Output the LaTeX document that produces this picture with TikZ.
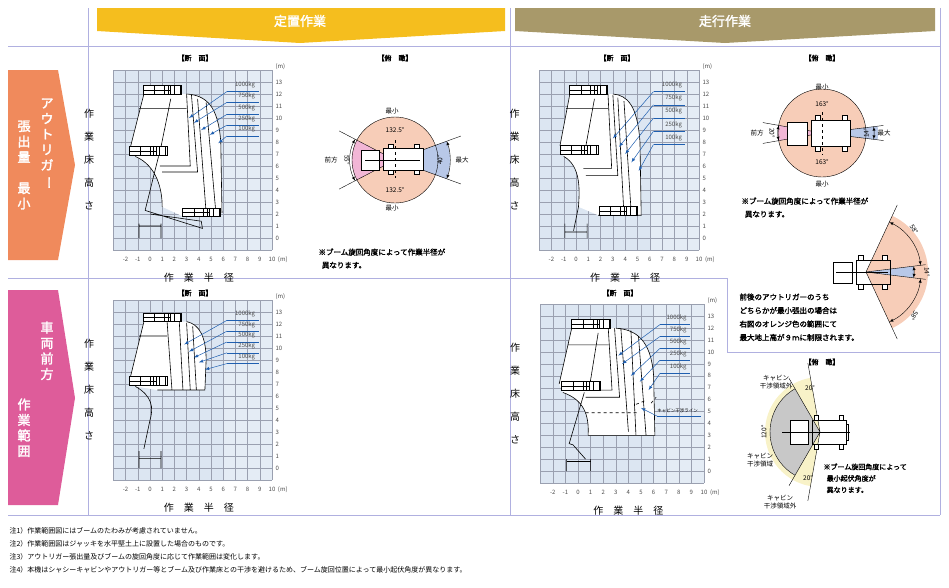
\documentclass[tikz,border=0pt]{standalone}
\usepackage{fontspec}
\setmainfont{Noto Sans CJK JP}[AutoFakeBold=2]
\usetikzlibrary{arrows.meta,calc}
\definecolor{hdryellow}{HTML}{F5BE1E}
\definecolor{hdrolive}{HTML}{A8996A}
\definecolor{sideorange}{HTML}{F08A5C}
\definecolor{sidepink}{HTML}{DE5C9A}
\definecolor{framecol}{HTML}{B0B0E0}
\definecolor{gridfill}{HTML}{DCE6F2}
\definecolor{gridline}{HTML}{9AA0B0}
\definecolor{peach}{HTML}{F7CDB8}
\definecolor{pinksec}{HTML}{F2B6D6}
\definecolor{bluesec}{HTML}{B8C8E8}
\definecolor{loadblue}{HTML}{1F5FB0}
\definecolor{yellowsec}{HTML}{F8F2C8}
\definecolor{graysec}{HTML}{C8C8C8}
\tikzset{>=latex}
\tikzset{
  frame/.style={draw=framecol,line width=0.8pt},
  envline/.style={draw=black,line width=0.6pt},
  envfill/.style={fill=white},
  loadarrow/.style={draw=loadblue,line width=0.5pt},
  tick/.style={font=\fontsize{6}{6}\selectfont,text=black!70},
  small/.style={font=\fontsize{6.5}{8}\selectfont},
  title/.style={font=\fontsize{7}{8}\selectfont\bfseries},
  note/.style={font=\fontsize{7.5}{13}\selectfont\bfseries,align=left,anchor=north west},
  vtext/.style={font=\fontsize{13}{15.5}\selectfont\bfseries,text=white,align=center,anchor=north}
}
\newcommand\vbar{\rotatebox[origin=c]{-90}{ー}}
% basket drawn in chart metres
\newcommand\basket[2]{%
  \draw[line width=1pt,fill=white] (#1,#2) rectangle ++(3,0.7);
  \draw[line width=0.6pt] (#1,#2+0.35)--++(2.2,0);
  \foreach \d in {0.9,1.7,2.0,2.2,2.5}{\draw[line width=0.8pt] (#1+\d,#2)--++(0,0.7);}
  \draw[line width=1pt] (#1+2.8,#2)--++(0.3,0)--++(0,0.7)--++(-0.3,0);}
\newcommand\chartgrid{%
  \fill[gridfill] (-3,-1) rectangle (10,14);
  \fill[white,opacity=0.25] (6,-1) rectangle (10,14);
  \foreach \i in {-3,...,10}{\draw[gridline,line width=0.35pt] (\i,-1)--(\i,14);}
  \foreach \j in {-1,...,14}{\draw[gridline,line width=0.35pt] (-3,\j)--(10,\j);}
  \foreach \j in {0,...,13}{\node[tick,anchor=west] (yt\j) at (10,\j) {\j};}
  \node[tick,anchor=west] (ym) at (10,14.3) {(m)};
  \foreach \i in {-2,...,10}{\node[tick] (xt\i) at (\i,-1.8) {\i};}
  \node[tick,anchor=west] (xm) at (10.2,-1.8) {(m)};
  \node[font=\fontsize{10}{10}\selectfont] (xlab) at (4,-3.3) {作\quad 業\quad 半\quad 径};
  \node[font=\fontsize{10}{23}\selectfont,align=center] (ylab) at (-5,6.5) {作\\業\\床\\高\\さ};}

\begin{document}
\begin{tikzpicture}[x=1pt,y=-1pt]
\useasboundingbox (0,0) rectangle (949,587);

% frames
\draw[frame] (88,8)--(88,515) (510,8)--(510,515) (8,46)--(940,46) (940,8)--(940,515)
  (8,278)--(727,278)--(727,352)--(940,352) (8,515)--(940,515);

% headers
\fill[hdryellow] (97,8)--(505,8)--(505,31)--(300,43)--(97,31)--cycle;
\node[font=\fontsize{13}{13}\selectfont\bfseries,text=white] (hfix) at (300,21) {定置作業};
\fill[hdrolive] (515,8)--(935,8)--(935,31)--(725,43)--(515,31)--cycle;
\node[font=\fontsize{13}{13}\selectfont\bfseries,text=white] (hrun) at (725,21) {走行作業};

% side labels
\fill[sideorange] (8,70)--(58,70)--(75,165)--(58,260)--(8,260)--cycle;
\node[vtext] (o1) at (47,95) {ア\\ウ\\ト\\リ\\ガ\\\vbar};
\node[vtext] (o2) at (24,117) {張\\出\\量\\\\最\\小};
\fill[sidepink] (8,290)--(58,290)--(75,398)--(58,505)--(8,505)--cycle;
\node[vtext] (p1) at (47,318) {車\\両\\前\\方};
\node[vtext] (p2) at (24,395) {作\\業\\範\\囲};

% section titles
\node[title] (t1) at (195,58) {【断\quad 面】};
\node[title] (t2) at (395,58) {【俯\quad 瞰】};
\node[title] (t3) at (617,58) {【断\quad 面】};
\node[title] (t4) at (822,58) {【俯\quad 瞰】};
\node[title] (t5) at (195,293) {【断\quad 面】};
\node[title] (t6) at (620,293) {【断\quad 面】};
\node[title] (t7) at (822,362) {【俯\quad 瞰】};

% chart 1
\begin{scope}[shift={(150,238)},x=12.2pt,y=12pt]
\chartgrid
\fill[envfill] (-0.5,12)--(3.0,12) .. controls (4.6,11.9) and (5.6,11) .. (5.8,8) -- (5.9,2.1)--(2.7,1.8)
  --(1,2.6) .. controls (1,4) and (0.6,6) .. (-1.2,6.8)--(-1.6,7.6)--cycle;
\draw[envline] (-0.5,12)--(-1.6,7.6) (-0.9,10.8)--(3.0,10.8)
  (3.0,12)--(3.3,6.0)--(0.8,6.0) (3.4,11.9)--(3.9,5.5)--(1.0,5.5)
  (3.9,11.6)--(4.6,2.1) (4.6,11.3)--(5.4,2.1)
  (3.0,12) .. controls (4.6,11.9) and (5.6,11) .. (5.8,8) -- (5.9,2.1)
  (1.7,11.6)--(0.8,7.1) (-1.2,6.8) .. controls (0.6,6) and (1,4) .. (1,2.6)
  (0.7,6.8)--(-0.4,2.3)--(4.3,0.8)--(4.2,1.4)--(0,2.0)
  (-0.9,0)--(-0.9,1.2) (0.9,0)--(0.9,1.2) (-0.9,1.0)--(0.9,1.0);
\basket{-0.5}{12}
\basket{-1.7}{6.9}
\basket{2.7}{1.8}
\foreach \w/\ly/\tx/\ty in {1000kg/12.2/3.2/10,750kg/11.3/3.6/9.6,500kg/10.3/4.2/9.0,250kg/9.4/4.9/8.6,100kg/8.5/5.6/7.9}{
  \draw[loadarrow,->] (6.3,\ly)--(\tx,\ty);
  \draw[loadarrow] (6.3,\ly)--(8.9,\ly);
  \node[tick,anchor=south east] at (8.9,\ly) {\w};}
\end{scope}

% chart 2
\begin{scope}[shift={(576,238)},x=12.3pt,y=12pt]
\chartgrid
\fill[envfill] (-0.5,12)--(3.0,12) .. controls (4.2,11.9) and (5.0,11) .. (5.2,8) -- (5.3,1.9)--(1.8,1.9)
  --(0.2,2.6) .. controls (0.3,4) and (0.4,6) .. (-1.0,6.8)--(-1.3,7.7)--cycle;
\draw[envline] (-0.5,12)--(-1.3,7.7) (-0.8,10.8)--(2.6,10.8)
  (2.6,12)--(2.9,5.8)--(0.6,5.8) (3.0,11.9)--(3.4,5.2)--(0.8,5.2)
  (3.4,11.7)--(3.9,1.9) (3.9,11.4)--(4.5,1.9)
  (3.0,12) .. controls (4.2,11.9) and (5.0,11) .. (5.2,8) -- (5.3,1.9)--(1.8,1.9)
  (1.5,11.6)--(0.7,7.1) (-1.0,6.8) .. controls (0.4,6) and (0.3,4) .. (0.2,2.6)
  (0.2,2.6)--(-0.2,0.6)
  (-0.9,0)--(-0.9,1.2) (0.9,0)--(0.9,1.2) (-0.9,0.5)--(0.9,0.5);
\basket{-0.5}{12}
\basket{-1.3}{7.0}
\basket{1.9}{1.9}
\foreach \w/\ly/\tx/\ty in {1000kg/12.2/3.0/8.3,750kg/11.1/3.5/7.6,500kg/10.0/4.0/7.0,250kg/8.9/4.5/6.3,100kg/7.8/5.1/5.6}{
  \draw[loadarrow,->] (6.3,\ly)--(\tx,\ty);
  \draw[loadarrow] (6.3,\ly)--(8.9,\ly);
  \node[tick,anchor=south east] at (8.9,\ly) {\w};}
\end{scope}

% chart 3
\begin{scope}[shift={(150,468)},x=12.2pt,y=12pt]
\chartgrid
\fill[envfill] (-0.5,12.2)--(3.0,12.2) .. controls (4.0,12) and (4.6,11) .. (4.6,9) -- (4.5,6.5)--(0.6,6.5)
  --(-1.2,6.8)--(-1.6,7.6)--cycle;
\draw[envline] (-0.5,12.2)--(-1.6,7.6) (-0.9,11.0)--(1.4,11.0)
  (1.4,12.2)--(1.8,6.5) (2.4,12.2)--(2.7,6.5) (3.0,12.1)--(3.3,6.5) (3.5,11.8)--(3.8,6.5)
  (3.0,12.2) .. controls (4.0,12) and (4.6,11) .. (4.6,9) -- (4.5,6.5)--(0.6,6.5)
  (-1.2,6.8) .. controls (0.2,6) and (0.3,5) .. (0,4)--(-0.5,1.6)
  (-0.9,0)--(-0.9,1.4) (0.9,0)--(0.9,1.4) (-0.9,0.8)--(0.9,0.8);
\basket{-0.5}{12.2}
\basket{-1.7}{6.9}
\foreach \w/\ly/\tx/\ty in {1000kg/12.3/2.8/10.3,750kg/11.4/3.2/9.7,500kg/10.5/3.6/9.2,250kg/9.6/4.0/8.8,100kg/8.7/4.5/8.2}{
  \draw[loadarrow,->] (6.3,\ly)--(\tx,\ty);
  \draw[loadarrow] (6.3,\ly)--(8.9,\ly);
  \node[tick,anchor=south east] at (8.9,\ly) {\w};}
\end{scope}

% chart 4
\begin{scope}[shift={(578,471)},x=12.6pt,y=11.9pt]
\chartgrid
\fill[envfill] (-0.5,12)--(3.0,12) .. controls (4.6,11.9) and (5.8,11) .. (6.0,8) -- (6.1,3.0)--(0.8,3.0)
  .. controls (0.9,4.8) and (0.4,6) .. (-1.2,6.6)--(-1.5,7.3)--cycle;
\draw[envline] (-0.5,12)--(-1.5,7.3) (-0.8,10.6)--(2.4,10.6)
  (2.4,12)--(2.7,6.8)--(0,6.8) (2.9,12)--(3.3,6.2)--(0.6,6.2)
  (3.4,12)--(4.0,3.3) (4.2,11.8)--(4.6,3.0) (4.8,11.3)--(5.4,3.0)
  (3.0,12) .. controls (4.6,11.9) and (5.8,11) .. (6.0,8) -- (6.1,3.0)--(0.8,3.0)
  (1.6,11.6)--(0.9,7.0) (-1.2,6.6) .. controls (0.4,6) and (0.9,4.8) .. (0.8,3.0)
  (0.5,6.6)--(-0.7,2.3)--(-0.4,2.2)--(0.6,1.0)
  (-0.9,0)--(-0.9,1.0) (1.0,0)--(1.0,1.0) (-0.9,0.8)--(1.0,0.8);
\draw[envline,dashed] (0.6,4.9)--(4.8,4.9) (4.6,5.6)--(5.3,5.9) (5.8,5.7)--(6.2,6.2);
\basket{-0.5}{12}
\basket{-1.3}{6.8}
\foreach \w/\ly/\tx/\ty in {1000kg/12.3/3.2/9.7,750kg/11.3/3.5/9.0,500kg/10.3/4.2/8.0,250kg/9.3/4.9/7.5,100kg/8.2/5.6/6.8}{
  \draw[loadarrow,->] (6.5,\ly)--(\tx,\ty);
  \draw[loadarrow] (6.5,\ly)--(8.9,\ly);
  \node[tick,anchor=south east] at (8.9,\ly) {\w};}
\draw[loadarrow,->] (6.3,4.6)--(5.0,5.3);
\draw[loadarrow] (6.3,4.6)--(9.8,4.6);
\node[font=\fontsize{4.5}{5}\selectfont,anchor=south east] (cabline) at (9.8,4.6) {キャビン干渉ライン};
\end{scope}

% top view 1
\coordinate (c1) at (395,160);
\fill[peach] (c1) circle (43);
\fill[pinksec] (c1)--++(152.5:43) arc (152.5:207.5:43)--cycle;
\fill[bluesec] (c1)--++(-20:55) arc (-20:20:55)--cycle;
\draw[line width=0.4pt] (c1) circle (43);
\draw[line width=0.4pt] (c1)--++(152.5:63) (c1)--++(207.5:63) (c1)--++(20:70) (c1)--++(-20:70);
\draw[line width=0.4pt,<->] ($(c1)+(-20:55)$) arc (-20:20:55);
\draw[line width=0.4pt,<->] ($(c1)+(152.5:45)$) arc (152.5:207.5:45);
\fill[white,draw=black,line width=0.5pt] (361,150) rectangle (379,170) (383,148) rectangle (423,170);
\foreach \px in {388,414}{\draw[fill=white,line width=0.4pt] (\px,144) rectangle ++(5,4) (\px,170) rectangle ++(5,4);}
\draw[line width=0.3pt] (365,160)--(420,160);
\draw[line width=0.3pt,dashed] (395,140)--(395,178);
\node[small] (v1a) at (392,111) {最小};
\node[small] (v1b) at (395,130) {132.5°};
\node[small] (v1c) at (395,190) {132.5°};
\node[small] (v1d) at (392,208) {最小};
\node[small] (v1e) at (331,160) {前方};
\node[small,rotate=-90] (v1f) at (347,160) {55°};
\node[small,rotate=90] (v1g) at (440,160) {40°};
\node[small] (v1h) at (462,160) {最大};
\node[note] (n1) at (315,245) {※ブーム旋回角度によって作業半径が\\\ \ 異なります。};

% top view 2
\coordinate (c2) at (822,133);
\fill[peach] (c2) circle (44);
\fill[pinksec] (c2)--++(170:44) arc (170:190:44)--cycle;
\fill[bluesec] (c2)--++(-7:56) arc (-7:7:56)--cycle;
\draw[line width=0.4pt] (c2) circle (44);
\draw[line width=0.4pt] (c2)--++(170:60) (c2)--++(190:60) (c2)--++(7:62) (c2)--++(-7:62);
\draw[line width=0.4pt,<->] ($(c2)+(-7:52)$) arc (-7:7:52);
\draw[line width=0.4pt,<->] ($(c2)+(170:44)$) arc (170:190:44);
\fill[white,draw=black,line width=0.5pt] (787,122) rectangle (807,145) (811,120) rectangle (850,146);
\foreach \px in {815,842}{\draw[fill=white,line width=0.4pt] (\px,115) rectangle ++(5,5) (\px,146) rectangle ++(5,5);}
\draw[line width=0.3pt,dashed] (822,112)--(822,155);
\node[small] (v2a) at (822,87) {最小};
\node[small] (v2b) at (822,104) {163°};
\node[small] (v2c) at (822,162) {163°};
\node[small] (v2d) at (822,184) {最小};
\node[small] (v2e) at (757,133) {前方};
\node[small,rotate=-90] (v2f) at (772,133) {20°};
\node[small,rotate=90] (v2g) at (866,133) {14°};
\node[small] (v2h) at (884,133) {最大};
\node[note] (n2) at (738,194) {※ブーム旋回角度によって作業半径が\\\ \ 異なります。};

% fan view
\coordinate (c3) at (866,272);
\fill[peach] (c3)--++(-65:62) arc (-65:65:62)--cycle;
\fill[bluesec] (c3)--++(-7:48) arc (-7:7:48)--cycle;
\draw[line width=0.4pt] (c3)--++(65:74) (c3)--++(-65:74) (c3)--++(7:60) (c3)--++(-7:60);
\draw[line width=0.4pt,<->] ($(c3)+(7:55)$) arc (7:65:55);
\draw[line width=0.4pt,<->] ($(c3)+(-65:55)$) arc (-65:-7:55);
\draw[line width=0.4pt,<->] ($(c3)+(-7:48)$) arc (-7:7:48);
\fill[white,draw=black,line width=0.5pt] (833,262) rectangle (852,283);
\draw[line width=0.5pt] (856,260) rectangle (890,284);
\foreach \px in {858,882}{\draw[fill=white,line width=0.4pt] (\px,255) rectangle ++(5,5) (\px,284) rectangle ++(5,5);}
\draw[line width=0.3pt] (836,272)--(888,272);
\node[small,rotate=-60,inner sep=0.5pt] (v3a) at (914,229) {58°};
\node[small,rotate=-90,inner sep=0.5pt] (v3b) at (927,272) {14°};
\node[small,rotate=-120,inner sep=0.5pt] (v3c) at (914,316) {58°};
\node[note,font=\fontsize{7.5}{13.5}\selectfont\bfseries] (n3) at (736,290) {前後のアウトリガーのうち\\どちらかが最小張出の場合は\\右図のオレンジ色の範囲にて\\最大地上高が９ｍに制限されます。};

% cabin view
\coordinate (c4) at (820,432);
\fill[yellowsec] (c4)--++(100:55) arc (100:260:55)--cycle;
\fill[graysec] (c4)--++(120:50) arc (120:240:50)--cycle;
\draw[line width=0.4pt] (c4)--++(120:62) (c4)--++(240:62) (c4)--++(100:70) (c4)--++(260:70);
\draw[line width=0.4pt] ($(c4)+(120:50)$) arc (120:240:50);
\fill[white,draw=black,line width=0.5pt] (790,420) rectangle (808,444);
\draw[line width=0.5pt] (812,420) rectangle (846,444) (846,424) rectangle (848,440);
\foreach \px in {814,839}{\draw[fill=white,line width=0.4pt] (\px,415) rectangle ++(4,5) (\px,444) rectangle ++(4,5);}
\draw[line width=0.3pt] (782,432)--(850,432);
\node[small,align=center] (v4a) at (776,382) {キャビン\\干渉領域外};
\node[small] (v4b) at (810,388) {20°};
\node[small,rotate=90] (v4c) at (764,432) {120°};
\node[small,align=center] (v4d) at (760,460) {キャビン\\干渉領域};
\node[small] (v4e) at (808,478) {20°};
\node[small,align=center] (v4f) at (780,502) {キャビン\\干渉領域外};
\node[note,font=\fontsize{7}{11.5}\selectfont\bfseries] (n4) at (820,460) {※ブーム旋回角度によって\\\ \ 最小起伏角度が\\\ \ 異なります。};

% notes
\node[note,font=\fontsize{7}{13}\selectfont] (notes) at (6,524) {注1）作業範囲図にはブームのたわみが考慮されていません。\\注2）作業範囲図はジャッキを水平堅土上に設置した場合のものです。\\注3）アウトリガー張出量及びブームの旋回角度に応じて作業範囲は変化します。\\注4）本機はシャシーキャビンやアウトリガー等とブーム及び作業床との干渉を避けるため、ブーム旋回位置によって最小起伏角度が異なります。};
\end{tikzpicture}
\end{document}
